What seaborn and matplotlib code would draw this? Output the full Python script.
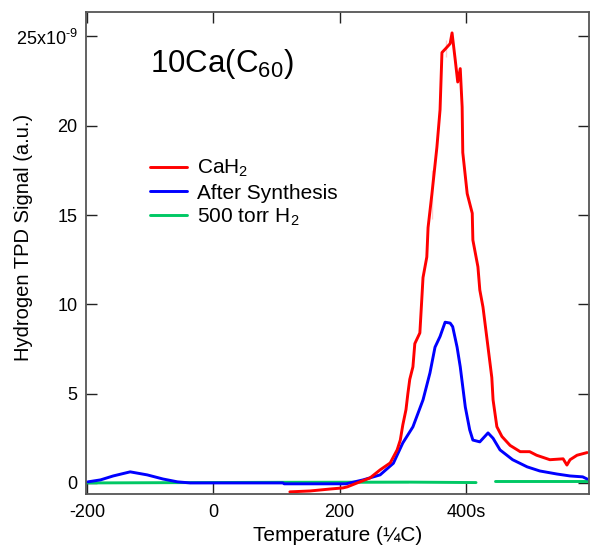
import matplotlib
matplotlib.use("Agg")
import matplotlib.pyplot as plt
import numpy as np
import pandas as pd
import seaborn as sns
from matplotlib.lines import Line2D

# CaH2 trace (temperature in C, signal in 1e-9 a.u.)
cah2_t = [121, 153, 185, 205, 212, 232, 248, 264, 280, 291, 296, 300, 305, 308,
          311, 316, 319, 327, 330, 332, 338, 340, 346, 346, 354, 359, 362, 368,
          368, 375, 378, 383, 387, 391, 394, 395, 402, 410, 411, 419, 422, 427,
          435, 441, 443, 449, 457, 470, 486, 501, 512, 533, 554, 560, 565, 576,
          592]
cah2_v = [-0.50, -0.45, -0.34, -0.28, -0.22, 0.06, 0.28, 0.73, 1.12, 1.85, 2.4,
          3.25, 4.1, 5.0, 5.8, 6.5, 7.8, 8.4, 10.25, 11.5, 12.65, 14.3, 14.8,
          17.5, 18.8, 20.9, 24.1, 23.85, 24.8, 24.6, 25.2, 23.7, 22.45, 23.2,
          21.05, 18.5, 16.2, 15.1, 13.6, 12.1, 10.8, 9.85, 7.6, 5.9, 4.65, 3.15,
          2.6, 2.1, 1.75, 1.75, 1.55, 1.3, 1.35, 1.0, 1.3, 1.55, 1.7]

# after synthesis trace
synth_t = [-199, -179, -159, -132, -105, -80, -57, -37, 110, 112, 210, 237, 264,
           285, 300, 316, 332, 343, 351, 359, 367, 375, 379, 386, 391, 399, 406,
           411, 422, 435, 443, 454, 474, 497, 517, 544, 565, 585, 592]
synth_v = [0.06, 0.17, 0.39, 0.62, 0.45, 0.22, 0.06, 0.0, 0.0, -0.05, -0.05,
           0.17, 0.45, 1.1, 2.24, 3.14, 4.65, 6.16, 7.6, 8.2, 9.0, 8.95, 8.75,
           7.6, 6.5, 4.25, 2.97, 2.4, 2.3, 2.8, 2.5, 1.85, 1.3, 0.9, 0.67, 0.5,
           0.39, 0.34, 0.22]

# 500 torr H2 trace (two pieces, gap near 430 C)
h2_t1 = [-200, 108, 108, 308, 308, 416]
h2_v1 = [0.0, 0.0, 0.07, 0.07, 0.02, 0.02]
h2_t2 = [446, 595]
h2_v2 = [0.08, 0.08]

x_ticks = [-200, 0, 200, 400]
x_labels = ["-200", "0", "200", "400s"]
y_ticks = [0, 5, 10, 15, 20, 25]
y_labels = ["0", "5", "10", "15", "20", r"25x10$^{\text{-9}}$"]

sns.set_style("ticks")
plt.rcParams["font.family"] = ["Liberation Sans", "DejaVu Sans"]
plt.rcParams["mathtext.fontset"] = "custom"
plt.rcParams["mathtext.rm"] = "Liberation Sans"
plt.rcParams["mathtext.it"] = "Liberation Sans"
plt.rcParams["text.color"] = "black"
plt.rcParams["axes.labelcolor"] = "black"

RED, BLUE, GREEN = "#FF0000", "#0000FF", "#00C864"

fig = plt.figure(figsize=(5.9, 5.46), dpi=100)
ax = fig.add_axes([86 / 590, 52 / 546, 503 / 590, 482 / 546])

lw = 2.1
sns.lineplot(x=h2_t1, y=h2_v1, color=GREEN, lw=lw, sort=False, ax=ax)
sns.lineplot(x=h2_t2, y=h2_v2, color=GREEN, lw=lw, sort=False, ax=ax)
sns.lineplot(x=synth_t, y=synth_v, color=BLUE, lw=lw, sort=False, ax=ax)
sns.lineplot(x=cah2_t, y=cah2_v, color=RED, lw=lw, sort=False, ax=ax)

ax.set_xlim(-202, 595)
ax.set_ylim(-0.62, 26.37)
ax.set_xticks(x_ticks)
ax.set_xticklabels(x_labels)
ax.set_yticks(y_ticks)
ax.set_yticklabels(y_labels)
ax.tick_params(direction="in", length=8, width=1, labelsize=13, colors="#222222",
               labelcolor="black", top=True, right=True,
               labeltop=False, labelright=False)
ax.tick_params(axis="x", pad=7)
ax.tick_params(axis="y", pad=6)
for s in ax.spines.values():
    s.set_color("#555555")
    s.set_linewidth(1.3)

ax.set_xlabel("Temperature (¼C)", fontsize=15, labelpad=4)
ax.set_ylabel("Hydrogen TPD Signal (a.u.)", fontsize=14.5)
ax.yaxis.set_label_coords(-0.106, 0.533)

ax.text(0.127, 0.876, "10Ca(C$_{60}$)", transform=ax.transAxes, fontsize=22.5,
        va="baseline", ha="left")

handles = [Line2D([], [], color=RED, lw=lw),
           Line2D([], [], color=BLUE, lw=lw),
           Line2D([], [], color=GREEN, lw=lw)]
ax.legend(handles, ["CaH$_2$", "After Synthesis", "500 torr H$_2$"],
          loc="upper left", bbox_to_anchor=(0.127, 0.697), frameon=False,
          fontsize=15, handlelength=1.78, handletextpad=0.48, labelspacing=0.2,
          borderpad=0, borderaxespad=0)

fig.savefig("out.png", dpi=100)
